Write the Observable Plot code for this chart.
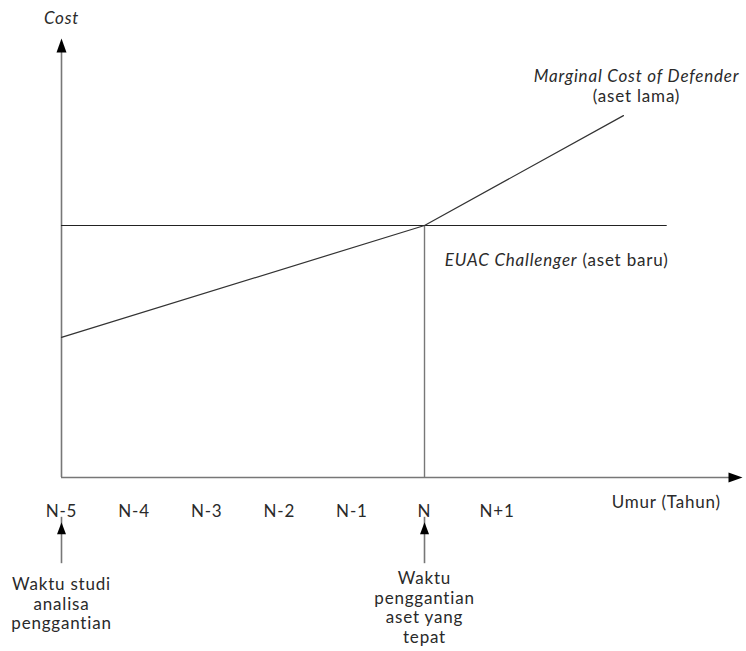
<!DOCTYPE html>
<html><head><meta charset="utf-8">
<script src="https://cdn.jsdelivr.net/npm/d3@7"></script>
<script src="https://cdn.jsdelivr.net/npm/@observablehq/plot@0.6"></script>
<style>body{margin:0;background:#fff} svg{display:block} svg text{letter-spacing:0.8px}</style>
</head><body><div id="chart"></div>
<script>
// Years relative to N (replacement year)
const tickValues = [-5, -4, -3, -2, -1, 0, 1];
const tickLabels = ["N-5", "N-4", "N-3", "N-2", "N-1", "N", "N+1"];
// EUAC Challenger (constant)
const euacYears = [-5, 3.33];
const euacCost = [5, 5];
// Marginal cost of defender
const defenderYears = [-5, 0, 2.74];
const defenderCost = [2.78, 5, 7.18];
const replacementYear = 0;
const studyYear = -5;
const xMax = 4.38, yMax = 8.71;

const FONT = "Lato";
const FS = 17;
const TXT = "#2a2a2a";

const bigHead = {draw(c){ c.moveTo(0,0); c.lineTo(-5,14); c.lineTo(5,14); c.closePath(); }};
const smallHead = {draw(c){ c.moveTo(0,0); c.lineTo(-4.5,12); c.lineTo(4.5,12); c.closePath(); }};

const euac = euacYears.map((x,i)=>({x, y: euacCost[i]}));
const defender = defenderYears.map((x,i)=>({x, y: defenderCost[i]}));
const arrowTipY = -0.89, arrowBaseY = -1.71;

const chart = Plot.plot({
  width: 746, height: 651,
  marginLeft: 61, marginRight: 4, marginTop: 38, marginBottom: 174,
  x: {domain: [-5, xMax]},
  y: {domain: [0, yMax], axis: null},
  style: {fontFamily: FONT, fontSize: FS + "px", color: TXT, background: "#fff"},
  marks: [
    // axes
    Plot.ruleY([0], {x1: -5, x2: xMax - 0.1, stroke: "#777", strokeWidth: 1.6}),
    Plot.ruleX([-5], {y1: 0, y2: yMax - 0.2, stroke: "#777", strokeWidth: 1.6}),
    Plot.dot([{x: xMax, y: 0}], {x: "x", y: "y", symbol: bigHead, fill: "#000", stroke: null, rotate: 90}),
    Plot.dot([{x: -5, y: yMax}], {x: "x", y: "y", symbol: bigHead, fill: "#000", stroke: null}),
    // replacement vertical
    Plot.ruleX([replacementYear], {y1: 0, y2: euacCost[0], stroke: "#777", strokeWidth: 1.4}),
    // EUAC
    Plot.line(euac, {x: "x", y: "y", stroke: "#222", strokeWidth: 1.2}),
    // defender
    Plot.line(defender, {x: "x", y: "y", stroke: "#333", strokeWidth: 1.2}),
    // x tick labels
    Plot.axisX({ticks: tickValues, tickFormat: (d) => tickLabels[tickValues.indexOf(d)], tickSize: 0, tickPadding: 27, label: null, fontSize: FS, fill: TXT}),
    // axis titles
    Plot.text(["Cost"], {x: -5, y: 9.0, text: d => d, lineAnchor: "bottom", fontStyle: "italic", fill: TXT}),
    Plot.text(["Umur (Tahun)"], {x: 3.33, y: -0.615, text: d => d, lineAnchor: "bottom", fill: TXT}),
    // labels
    Plot.text(["Marginal Cost of Defender"], {x: 2.92, y: 7.84, text: d => d, lineAnchor: "bottom", fontStyle: "italic", fill: TXT}),
    Plot.text(["(aset lama)"], {x: 2.92, y: 7.46, text: d => d, lineAnchor: "bottom", fill: TXT}),
    Plot.text(["EUAC Challenger"], {x: 2.107, y: 4.19, text: d => d, lineAnchor: "bottom", textAnchor: "end", fontStyle: "italic", fill: TXT}),
    Plot.text(["(aset baru)"], {x: 2.107, y: 4.19, dx: 5, text: d => d, lineAnchor: "bottom", textAnchor: "start", fill: TXT}),
    // bottom pointer arrows
    Plot.ruleX([studyYear, replacementYear], {y1: arrowTipY + 0.1, y2: arrowBaseY, stroke: "#777", strokeWidth: 1.6}),
    Plot.dot([studyYear, replacementYear], {x: d => d, y: arrowTipY, symbol: smallHead, fill: "#000", stroke: null}),
    Plot.text(["Waktu studi\nanalisa\npenggantian"], {x: studyYear, y: -1.964, text: d => d, lineAnchor: "top", lineHeight: 1.15, fill: TXT}),
    Plot.text(["Waktu\npenggantian\naset yang\ntepat"], {x: replacementYear, y: -1.845, text: d => d, lineAnchor: "top", lineHeight: 1.15, fill: TXT})
  ]
});
document.getElementById("chart").appendChild(chart);
</script>
</body></html>
